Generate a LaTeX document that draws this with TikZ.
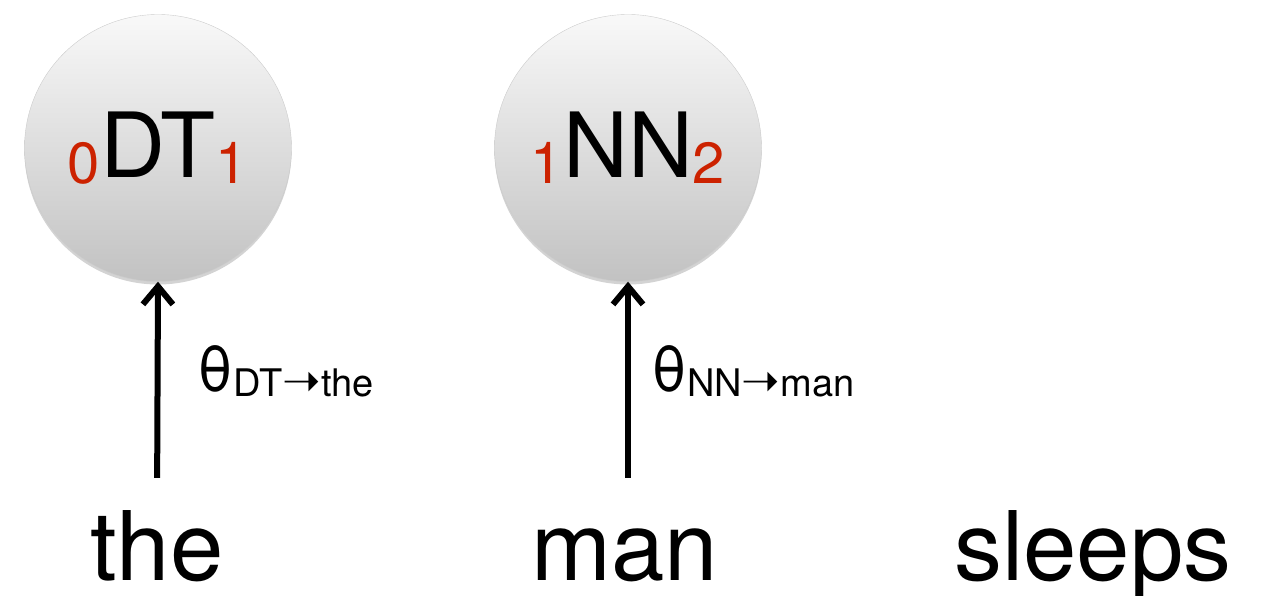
\documentclass[tikz,border=0pt]{standalone}
\usepackage{fontspec}
\setmainfont{TeX Gyre Heros}
\newfontfamily\arrowfont{DejaVu Sans}
\usetikzlibrary{arrows.meta,shadows}
\definecolor{idxred}{RGB}{204,34,0}
\newcommand{\idx}[1]{\raisebox{-6pt}{\fontsize{58}{58}\selectfont\color{idxred}#1}}
\newcommand{\emsub}[2]{\raisebox{-5pt}{\fontsize{38}{38}\selectfont #1{\arrowfont\fontsize{46}{46}\selectfont ➝}#2}}
\tikzset{
  tag/.style={circle,minimum size=267pt,inner sep=0pt,draw=gray!40,line width=.4pt,
    top color=gray!5,bottom color=gray!48,
    drop shadow={shadow xshift=0pt,shadow yshift=-3pt,opacity=.35},
    font=\fontsize{90}{90}\selectfont},
  word/.style={inner sep=0pt,anchor=base,text height=70pt,font=\fontsize{96}{96}\selectfont},
  emit/.style={-{Straight Barb[length=18pt,width=30pt]},line width=6pt,shorten <=32pt},
  prob/.style={anchor=base west,inner sep=0pt,font=\fontsize{62}{62}\selectfont}
}

\begin{document}
\begin{tikzpicture}[x=1pt,y=-1pt]
  \useasboundingbox (0,0) rectangle (1265,595);
  % tags
  \node[tag] (dt) at (158,148) {\idx{0}DT\idx{1}};
  \node[tag] (nn) at (628,148) {\idx{1}NN\idx{2}};
  % words
  \node[word] (the) at (157,580) {the};
  \node[word] (man) at (625,580) {man};
  \node[word] (sleeps) at (1093,580) {sleeps};
  % emissions
  \draw[emit] (the.north) -- node[prob,pos=.52,xshift=37pt] {θ\emsub{DT}{the}} (dt.south);
  \draw[emit] (man.north -| nn.south) -- node[prob,pos=.52,xshift=20pt] {θ\emsub{NN}{man}} (nn.south);
\end{tikzpicture}
\end{document}
